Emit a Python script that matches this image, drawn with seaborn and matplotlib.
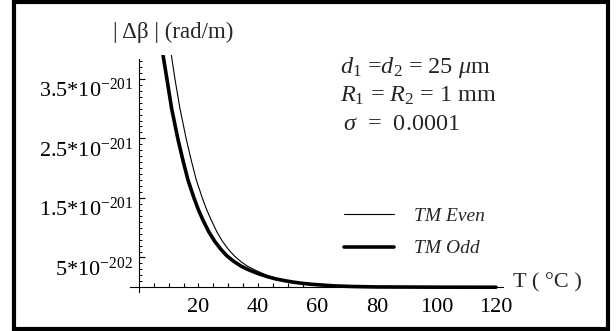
import numpy as np
import pandas as pd
import matplotlib
matplotlib.use('Agg')
import matplotlib.pyplot as plt
import matplotlib.patches as patches
from matplotlib.ticker import FixedLocator
import seaborn as sns

# values, |Δβ| in units of 1e-201 rad/m
t_even = [10.9, 12.1, 13.8, 15.9, 17.6, 19.3, 21.3, 22.8, 24.3, 26.2, 28.1, 30.0, 32.0, 34.3, 36.6, 39.0,
          41.6, 44.2, 47.0, 49.8, 52.5, 55.3, 58.0, 62.0, 66.0, 72.0, 80.0, 100.0, 120.0]
y_even = [3.90, 3.50, 3.00, 2.49, 2.13, 1.80, 1.50, 1.30, 1.13, 0.93, 0.77, 0.64, 0.53, 0.43, 0.35, 0.29,
          0.23, 0.18, 0.14, 0.11, 0.085, 0.065, 0.05, 0.033, 0.02, 0.01, 0.004, 0.001, 0.0]
t_odd = [8.1, 9.4, 11.0, 13.1, 14.8, 16.5, 18.5, 20.0, 21.5, 23.5, 25.5, 27.5, 29.5, 32.0, 34.5, 37.0,
         40.0, 43.0, 46.0, 49.0, 52.0, 55.0, 58.0, 62.0, 66.0, 72.0, 80.0, 100.0, 120.0]
y_odd = [3.90, 3.50, 3.00, 2.49, 2.13, 1.80, 1.50, 1.30, 1.13, 0.93, 0.77, 0.64, 0.53, 0.43, 0.35, 0.29,
         0.23, 0.18, 0.14, 0.11, 0.085, 0.065, 0.05, 0.035, 0.022, 0.012, 0.005, 0.001, 0.0]

ytick_vals = [0.5, 1.5, 2.5, 3.5]
ytick_labels = ['5*$10^{-202}$', '1.5*$10^{-201}$', '2.5*$10^{-201}$', '3.5*$10^{-201}$']
xtick_vals = [20, 40, 60, 80, 100, 120]

df = pd.concat([
    pd.DataFrame({'T': t_even, 'dbeta': y_even, 'mode': 'TM Even'}),
    pd.DataFrame({'T': t_odd, 'dbeta': y_odd, 'mode': 'TM Odd'}),
])

sns.set_theme(style='white')
plt.rcParams['font.family'] = ['Liberation Serif', 'DejaVu Serif']
plt.rcParams['mathtext.fontset'] = 'custom'
plt.rcParams['mathtext.rm'] = 'Liberation Serif'
plt.rcParams['mathtext.it'] = 'Liberation Serif:italic'

W, H = 616, 331
fig = plt.figure(figsize=(W / 100, H / 100), dpi=100)
ax = fig.add_axes([130 / W, (H - 292) / H, (503 - 130) / W, (292 - 55) / H])

sns.lineplot(data=df, x='T', y='dbeta', hue='mode', size='mode',
             palette={'TM Even': 'black', 'TM Odd': 'black'},
             sizes={'TM Even': 0.8, 'TM Odd': 2.6},
             estimator=None, sort=True, ax=ax)

ax.set_xlim(-3, 122.4)
ax.set_ylim(-0.08, 3.9)
for s in ['top', 'right']:
    ax.spines[s].set_visible(False)
ax.spines['left'].set_position(('data', 0))
ax.spines['bottom'].set_position(('data', 0))
ax.spines['left'].set_bounds(-0.08, 3.83)
for s in ['left', 'bottom']:
    ax.spines[s].set_color('black')
    ax.spines[s].set_linewidth(0.8)

ax.set_xticks(xtick_vals)
ax.set_xticklabels([str(v) for v in xtick_vals], fontsize=16)
ax.xaxis.set_minor_locator(FixedLocator(list(range(5, 60, 5))))
ax.xaxis.remove_overlapping_locs = False
ax.tick_params(axis='x', which='both', bottom=True)
ax.tick_params(axis='x', which='major', direction='in', length=0, pad=8, colors='black')
ax.tick_params(axis='x', which='minor', direction='in', length=3, width=0.8, colors='black')

ax.set_yticks(ytick_vals, ytick_labels, va='top', fontsize=16)
ax.yaxis.set_minor_locator(FixedLocator([i / 10 for i in range(1, 39)]))
ax.tick_params(axis='y', which='both', left=True)
ax.tick_params(axis='y', which='major', direction='in', length=4, width=0.8, pad=4, colors='black')
ax.tick_params(axis='y', which='minor', direction='in', length=2, width=0.7, colors='black')

ax.set_xlabel('')
ax.set_ylabel('')

leg = ax.legend(loc='upper left', bbox_to_anchor=(326 / W, 1 - 190 / H),
                bbox_transform=fig.transFigure, frameon=False,
                handlelength=2.6, handletextpad=1.0, labelspacing=0.75,
                prop={'style': 'italic', 'size': 14})

def ftext(x, y, s, **kw):
    fig.text(x / W, 1 - y / H, s, va='center', **kw)

ftext(113, 32, '| Δβ | (rad/m)', fontsize=16.5)
ftext(513, 283, 'T ( °C )', fontsize=16)
ftext(340, 68, '$d_1$ =$d_2$ = 25 $\\mu$m', fontsize=17.5)
ftext(340, 96, '$R_1$ = $R_2$ = 1 mm', fontsize=17.5)
ftext(343, 124, '$\\sigma$  =  0.0001', fontsize=17.5)

fig.patches.append(patches.Rectangle((14 / W, 2 / H), 594 / W, 327 / H,
                                     transform=fig.transFigure, fill=False,
                                     edgecolor='black', linewidth=3))

fig.savefig('out.png', dpi=100)
